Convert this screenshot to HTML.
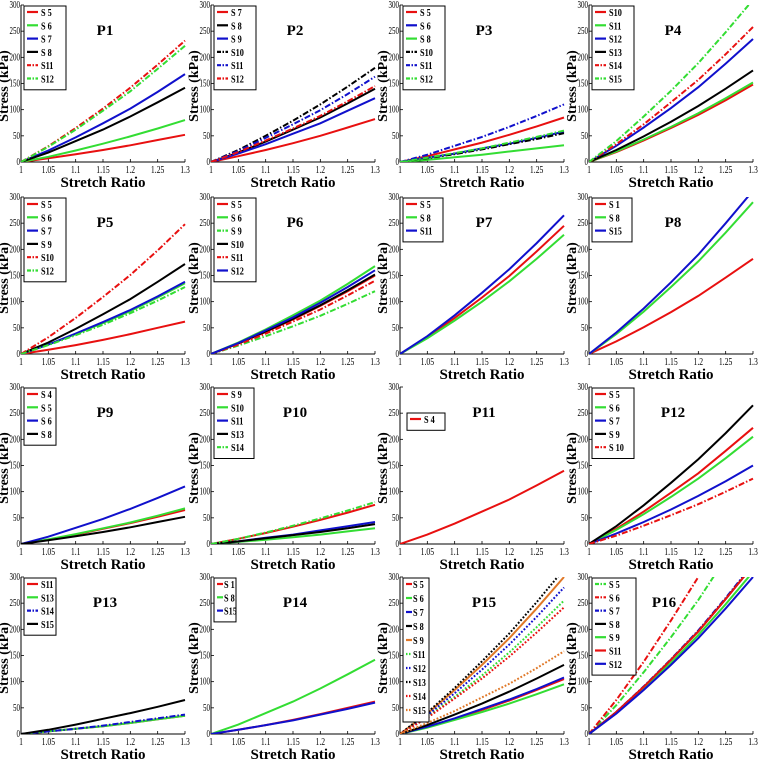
<!DOCTYPE html>
<html><head><meta charset="utf-8">
<style>
html,body{margin:0;padding:0;background:#fff;}
svg text{font-family:"Liberation Serif",serif;}
</style></head>
<body>
<svg id="chart" width="758" height="763" viewBox="0 0 758 763" xmlns="http://www.w3.org/2000/svg"></svg>
<script>
const xStretch=[1,1.05,1.1,1.15,1.2,1.25,1.3];
const xTickLabels=["1","1.05","1.1","1.15","1.2","1.25","1.3"];
const yTickValues=[0,50,100,150,200,250,300];
const panelTitles=["P1","P2","P3","P4","P5","P6","P7","P8","P9","P10","P11","P12","P13","P14","P15","P16"];

const p1Labels=["S 5","S 6","S 7","S 8","S11","S12"];
const p1Values=[[0,7,15,23,32,42,52],[0,10,22,35,49,64,80],[0,22,47,74,102,134,168],[0,18,40,62,87,114,142],[0,30,65,102,142,186,232],[0,29,62,98,135,178,222]];
const p2Labels=["S 7","S 8","S 9","S10","S11","S12"];
const p2Values=[[0,11,23,36,50,66,82],[0,18,39,62,85,112,140],[0,16,34,54,74,98,122],[0,23,50,79,110,144,180],[0,21,46,72,99,130,163],[0,19,41,64,88,116,145]];
const p3Labels=["S 5","S 6","S 8","S10","S11","S12"];
const p3Values=[[0,11,24,37,52,68,85],[0,8,16,26,35,46,58],[0,4,9,14,20,26,32],[0,7,15,24,34,44,55],[0,14,31,48,67,88,110],[0,8,17,26,37,48,60]];
const p4Labels=["S10","S11","S12","S13","S14","S15"];
const p4Values=[[0,19,41,65,90,118,148],[0,20,43,67,93,122,152],[0,31,66,103,143,188,235],[0,23,49,77,107,140,175],[0,34,72,114,157,206,258],[0,40,87,136,189,248,310]];
const p5Labels=["S 5","S 6","S 7","S 9","S10","S12"];
const p5Values=[[0,8,17,27,38,50,62],[0,18,38,59,82,108,135],[0,18,39,61,84,110,138],[0,22,48,76,105,138,172],[0,32,69,109,151,198,248],[0,17,36,56,78,102,128]];
const p6Labels=["S 5","S 6","S 9","S10","S11","S12"];
const p6Values=[[0,20,42,66,92,120,150],[0,22,47,74,102,134,168],[0,16,34,53,73,96,120],[0,20,43,67,93,122,152],[0,18,39,62,85,112,140],[0,21,45,70,98,128,160]];
const p7Labels=["S 5","S 8","S11"];
const p7Values=[[0,32,69,108,149,196,245],[0,30,64,100,139,182,228],[0,34,74,117,162,212,265]];
const p8Labels=["S 1","S 8","S15"];
const p8Values=[[0,24,51,80,111,146,182],[0,38,81,128,177,232,290],[0,41,87,137,190,250,312]];
const p9Labels=["S 4","S 5","S 6","S 8"];
const p9Values=[[0,8,18,29,40,52,65],[0,9,19,30,41,54,68],[0,14,31,48,67,88,110],[0,7,15,23,32,42,52]];
const p10Labels=["S 9","S10","S11","S13","S14"];
const p10Values=[[0,10,21,33,46,60,75],[0,4,8,13,18,24,30],[0,5,12,18,26,34,42],[0,5,11,17,23,30,38],[0,10,22,35,49,64,80]];
const p11Labels=["S 4"];
const p11Values=[[0,18,39,62,85,112,140]];
const p12Labels=["S 5","S 6","S 7","S 9","S 10"];
const p12Values=[[0,29,62,98,135,178,222],[0,27,57,90,125,164,205],[0,20,42,66,92,120,150],[0,34,74,117,162,212,265],[0,16,35,55,76,100,125]];
const p13Labels=["S11","S13","S14","S15"];
const p13Values=[[0,5,10,15,21,28,35],[0,5,10,15,21,28,35],[0,5,10,16,23,30,37],[0,8,18,29,40,52,65]];
const p14Labels=["S 1","S 8","S15"];
const p14Values=[[0,8,17,27,38,50,62],[0,18,40,62,87,114,142],[0,8,17,26,37,48,60]];
const p15Labels=["S 5","S 6","S 7","S 8","S 9","S11","S12","S13","S14","S15"];
const p15Values=[[0,14,29,46,64,84,105],[0,12,27,42,58,76,95],[0,14,30,48,66,86,108],[0,17,37,58,81,106,132],[0,39,84,132,183,240,300],[0,33,71,112,156,204,255],[0,36,78,123,171,224,280],[0,41,88,139,192,252,315],[0,31,68,106,148,194,242],[0,21,44,70,96,126,158]];
const p16Labels=["S 5","S 6","S 7","S 8","S 9","S11","S12"];
const p16Values=[[0,55,118,185,256,336,420],[0,65,138,217,300,390,490],[0,42,91,143,198,260,325],[0,42,90,142,196,258,322],[0,40,87,136,189,248,310],[0,42,90,142,196,258,322],[0,39,84,132,183,240,300]];

const R="#e81010",G="#33dd33",B="#1010cc",K="#000",O="#e07828";
const styles=[
 [[R,"s"],[G,"s"],[B,"s"],[K,"s"],[R,"dd"],[G,"dd"]],
 [[R,"s"],[K,"s"],[B,"s"],[K,"dd"],[B,"dd"],[R,"dd"]],
 [[R,"s"],[B,"s"],[G,"s"],[K,"dd"],[B,"dd"],[G,"dd"]],
 [[R,"s"],[G,"s"],[B,"s"],[K,"s"],[R,"dd"],[G,"dd"]],
 [[R,"s"],[G,"s"],[B,"s"],[K,"s"],[R,"dd"],[G,"dd"]],
 [[R,"s"],[G,"s"],[G,"dd"],[K,"s"],[R,"dd"],[B,"s"]],
 [[R,"s"],[G,"s"],[B,"s"]],
 [[R,"s"],[G,"s"],[B,"s"]],
 [[R,"s"],[G,"s"],[B,"s"],[K,"s"]],
 [[R,"s"],[G,"s"],[B,"s"],[K,"s"],[G,"dd"]],
 [[R,"s"]],
 [[R,"s"],[G,"s"],[B,"s"],[K,"s"],[R,"dd"]],
 [[R,"s"],[G,"s"],[B,"dd"],[K,"s"]],
 [[R,"s"],[G,"s"],[B,"s"]],
 [[R,"s"],[G,"s"],[B,"s"],[K,"s"],[O,"s"],[G,"d"],[B,"d"],[K,"d"],[R,"d"],[O,"d"]],
 [[G,"dd"],[R,"dd"],[B,"dd"],[K,"s"],[G,"s"],[R,"s"],[B,"s"]]
];
const allLabels=[p1Labels,p2Labels,p3Labels,p4Labels,p5Labels,p6Labels,p7Labels,p8Labels,p9Labels,p10Labels,p11Labels,p12Labels,p13Labels,p14Labels,p15Labels,p16Labels];
const allValues=[p1Values,p2Values,p3Values,p4Values,p5Values,p6Values,p7Values,p8Values,p9Values,p10Values,p11Values,p12Values,p13Values,p14Values,p15Values,p16Values];
const legendW=[42,42,42,42,42,42,40,40,32,40,38,42,32,22,26,44];

const colX=[0,190,379,568], rowY=[0,192,382,572];
const L=21,Rt=185,T=5,Bt=162;
function sx(v){return L+(v-1)/0.3*(Rt-L);}
function sy(v){return Bt-v/300*(Bt-T);}
const NS="http://www.w3.org/2000/svg";
const svg=document.getElementById("chart");
function mk(tag,attrs,parent){const e=document.createElementNS(NS,tag);for(const k in attrs)e.setAttribute(k,attrs[k]);parent.appendChild(e);return e;}
function dash(s){return s==="dd"?"6,2,1.5,2":(s==="d"?"1.8,1.8":"none");}

const defs=mk("defs",{},svg);
const cp=mk("clipPath",{id:"plotclip"},defs);
mk("rect",{x:L,y:T,width:Rt-L+3,height:Bt-T},cp);

for(let p=0;p<16;p++){
  const g=mk("g",{transform:`translate(${colX[p%4]},${rowY[Math.floor(p/4)]})`},svg);
  
  
  const yt=mk("text",{x:0,y:0,"text-anchor":"middle","font-size":14,"font-weight":"bold",transform:"translate(8,86) rotate(-90)"},g);
  yt.textContent="Stress (kPa)";
  
  
  const ax=mk("path",{d:`M${L},${T}V${Bt}H${Rt}`,stroke:"#000","stroke-width":1,fill:"none"},g);
  
  
  yTickValues.forEach(v=>{
    mk("line",{x1:L,x2:L+3,y1:sy(v),y2:sy(v),stroke:"#000","stroke-width":0.8},g);
    const t=mk("text",{x:L-1,y:sy(v)+3,"text-anchor":"end","font-size":10,transform:`translate(${L-1},0) scale(0.7,1) translate(${-(L-1)},0)`},g);
    t.textContent=String(v);
    
    
  });
  xStretch.forEach((v,i)=>{
    mk("line",{x1:sx(v),x2:sx(v),y1:Bt,y2:Bt-3,stroke:"#000","stroke-width":0.8},g);
    const t=mk("text",{x:sx(v),y:Bt+11,"text-anchor":"middle","font-size":11,transform:`translate(${sx(v)},0) scale(0.7,1) translate(${-sx(v)},0)`},g);
    t.textContent=xTickLabels[i];
    
    
  });
  const xt=mk("text",{x:103,y:187,"text-anchor":"middle","font-size":15,"font-weight":"bold"},g);
  xt.textContent="Stretch Ratio";
  
  
  const lg=mk("g",{"clip-path":"url(#plotclip)"},g);
  allValues[p].forEach((vals,si)=>{
    const pts=vals.map((v,i)=>sx(xStretch[i]).toFixed(1)+","+sy(v).toFixed(1)).join(" ");
    const st=styles[p][si];
    const pl=mk("polyline",{points:pts,fill:"none",stroke:st[0],"stroke-width":2,"stroke-dasharray":dash(st[1])},lg);
    
    
  });
  const tt=mk("text",{x:p===15?96:105,y:35,"text-anchor":"middle","font-size":15,"font-weight":"bold"},g);
  tt.textContent=panelTitles[p];
  
  
  const n=allLabels[p].length;
  const lx=p===10?28:24, ly=p===10?31:6, lw=legendW[p], step=p===14?14:13.3;
  const box=mk("rect",{x:lx,y:ly,width:lw,height:n*step+4,fill:"#fff",stroke:"#000","stroke-width":1},g);
  
  
  allLabels[p].forEach((lab,si)=>{
    const yy=ly+9+si*step;
    const st=styles[p][si];
    const short=lw<30;
    mk("line",{x1:lx+3,x2:lx+(short?9:14),y1:yy-3,y2:yy-3,stroke:st[0],"stroke-width":2.2,"stroke-dasharray":st[1]==="dd"?"4,1.5,1.5,1.5":(st[1]==="d"?"1.5,1.5":"none")},g);
    const tx=lx+(short?10:17);
    const t=mk("text",{x:tx,y:yy+1,"font-size":11,"font-weight":"bold",transform:`translate(${tx},0) scale(0.75,1) translate(${-tx},0)`},g);
    t.textContent=lab;
    
    
  });
}
</script>
</body></html>
